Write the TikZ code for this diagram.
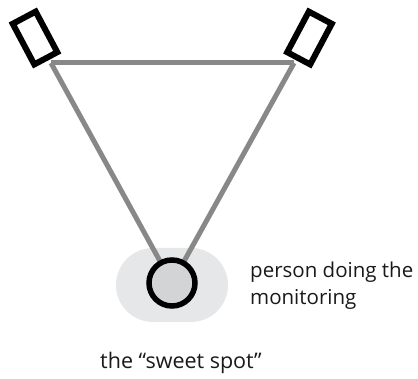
\documentclass[tikz,border=0pt]{standalone}
\usepackage{fontspec}
\setmainfont{Open Sans}
\definecolor{wiregray}{RGB}{136,136,136}
\definecolor{zonegray}{RGB}{230,231,232}
\definecolor{persongray}{RGB}{211,212,214}
\begin{document}
\begin{tikzpicture}[x=1pt,y=-1pt,
  speaker/.style={draw=black, fill=white, line width=6pt, minimum width=26pt, minimum height=46pt, inner sep=0pt},
  wire/.style={draw=wiregray, line width=5pt},
  zone/.style={fill=zonegray, minimum width=112pt, minimum height=74pt, rounded corners=37pt, inner sep=0pt},
  person/.style={circle, draw=black, fill=persongray, line width=5.5pt, minimum size=46pt, inner sep=0pt},
  label/.style={font=\fontsize{20.5}{27}\selectfont, inner sep=0pt, text=black!90}]
\useasboundingbox (0,0) rectangle (418,379);
\node[zone] (zone) at (172,285) {};
\coordinate (pc) at (172,283);
\coordinate (L) at (51,63);
\coordinate (R) at (294,63);
\draw[wire] (L) -- (R);
\draw[wire] (L) -- (pc);
\draw[wire] (R) -- (pc);
\node[person] (person) at (pc) {};
\node[speaker, rotate=28] (spkL) at (35,38) {};
\node[speaker, rotate=-28] (spkR) at (309.5,38) {};
\node[label, anchor=base west, align=left] (who) at (250,305) {person doing the\\monitoring};
\node[label, anchor=base, font=\fontsize{21.5}{27}\selectfont] (sweet) at (181,369) {the “sweet spot”};
\end{tikzpicture}
\end{document}
